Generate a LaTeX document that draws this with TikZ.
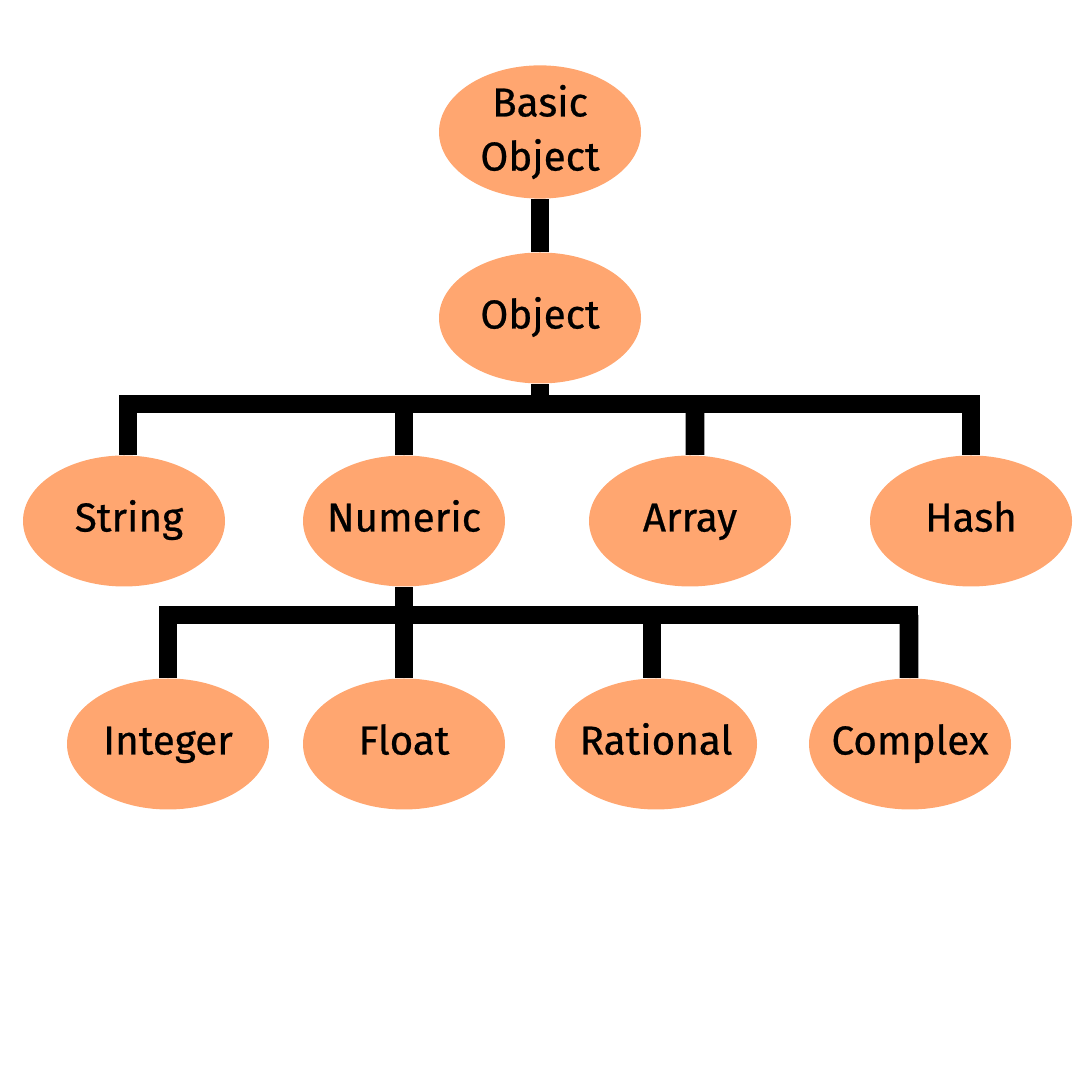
\documentclass[tikz,border=0pt]{standalone}
\usepackage{fontspec}
\setmainfont{Fira Sans}[FakeBold=0.6]
\usepackage{tikz}
\usetikzlibrary{shapes.geometric}
\definecolor{nodeorange}{RGB}{255,166,112}
\tikzset{
  cls/.style={ellipse,fill=nodeorange,minimum width=2.02cm,minimum height=1.31cm,
    inner xsep=-3mm,inner ysep=0pt,align=center,font=\fontsize{11.5}{15.4}\selectfont},
  leaf/.style={cls,text height=2.8mm,text depth=0.7mm},
  bar/.style={line width=5.3pt,black}
}
\begin{document}
\begin{tikzpicture}
\useasboundingbox (0,0) rectangle (10.8,10.8);
% top of the tree
\node[cls] (basic) at (5.40,9.48) {Basic\\Object};
\node[leaf] (object) at (5.40,7.62) {Object};
% second row
\node[leaf] (string) at (1.24,5.59) {\hspace{1mm}String};
\node[leaf] (numeric) at (4.04,5.59) {Numeric};
\node[leaf] (array) at (6.90,5.59) {Array};
\node[leaf] (hash) at (9.71,5.59) {Hash};
% third row
\node[leaf] (integer) at (1.68,3.36) {Integer};
\node[leaf] (float) at (4.04,3.36) {Float};
\node[leaf] (rational) at (6.56,3.36) {Rational};
\node[leaf] (complex) at (9.10,3.36) {Complex};
% bus lines
\coordinate (busA) at (5.40,6.76);
\coordinate (busB) at (4.04,4.65);
\draw[bar] (basic.south) -- (object.north);
\draw[bar] (object.south) -- (busA);
\draw[bar,line cap=rect] (busA -| 1.28,0) -- (busA -| hash.north);
\draw[bar] (busA -| 1.28,0) -- ([xshift=0.04cm]string.north);
\draw[bar] (busA -| numeric.north) -- (numeric.north);
\draw[bar] (busA -| 6.95,0) -- ([xshift=0.05cm]array.north);
\draw[bar] (busA -| hash.north) -- (hash.north);
\draw[bar] (numeric.south) -- (busB);
\draw[bar,line cap=rect] (busB -| integer.north) -- (busB -| 9.09,0);
\draw[bar] (busB -| integer.north) -- (integer.north);
\draw[bar] (busB) -- (float.north);
\draw[bar] (busB -| 6.52,0) -- ([xshift=-0.04cm]rational.north);
\draw[bar] (busB -| 9.09,0) -- ([xshift=-0.01cm]complex.north);
\end{tikzpicture}
\end{document}
